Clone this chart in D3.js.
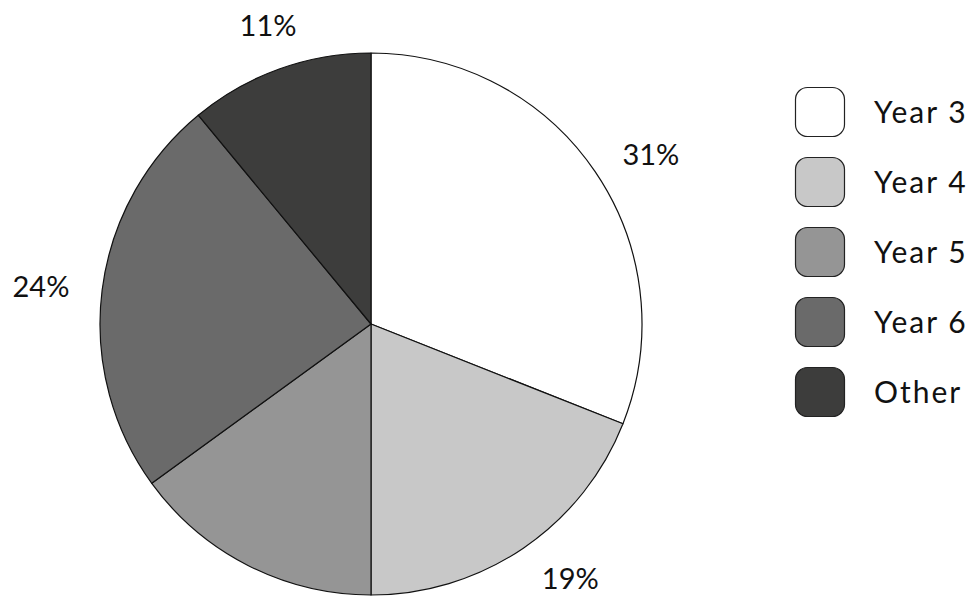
<!DOCTYPE html>
<html>
<head>
<meta charset="utf-8">
<script src="https://cdn.jsdelivr.net/npm/d3@7"></script>
<style>
  html, body { margin: 0; padding: 0; background: #fff; }
  svg { display: block; }
  text { font-family: "Lato", "Open Sans", sans-serif; fill: #111; }
</style>
</head>
<body>
<svg id="chart" width="977" height="598"></svg>
<script>
const categories = ["Year 3", "Year 4", "Year 5", "Year 6", "Other"];
const values = [31, 19, 15, 24, 11];
const colors = ["#ffffff", "#c8c8c8", "#959595", "#6a6a6a", "#3d3d3c"];

const W = 977, H = 598;
const cx = 371, cy = 324, R = 271, labelR = 304;

const svg = d3.select("#chart");
const data = categories.map((c, i) => ({ name: c, value: values[i], color: colors[i] }));

const pie = d3.pie().sort(null).value(d => d.value);
const arcs = pie(data);
const arc = d3.arc().innerRadius(0).outerRadius(R);

const g = svg.append("g").attr("transform", `translate(${cx},${cy})`);
g.selectAll("path.slice")
  .data(arcs)
  .join("path")
  .attr("class", "slice")
  .attr("d", arc)
  .attr("fill", d => d.data.color)
  .attr("stroke", "#111")
  .attr("stroke-width", 1.2)
  .attr("stroke-linejoin", "round");

// percentage labels outside the pie (labels falling outside the canvas are dropped, as in the source)
const fs = 29;
g.selectAll("text.pct")
  .data(arcs)
  .join("text")
  .attr("class", "pct")
  .attr("font-size", fs)
  .attr("text-anchor", "middle")
  .attr("dominant-baseline", "central")
  .text(d => d.data.value + "%")
  .each(function(d) {
    const a = (d.startAngle + d.endAngle) / 2;
    const s = Math.sin(a), c = Math.cos(a);
    const bb = this.getBBox();
    const hw = bb.width / 2;
    const hh = c > 0 ? 14 : 3;
    const ox = Math.abs(s) > 0.4 ? hw * Math.sign(s) : 0;
    const oy = Math.abs(c) > 0.6 ? -hh * c : 0;
    const x = labelR * s + ox, y = -labelR * c + oy;
    if (cy + y + fs * 0.35 > H) { d3.select(this).remove(); return; }
    d3.select(this).attr("x", x).attr("y", y);
  });

// legend
const lg = svg.append("g").attr("transform", "translate(795,87)");
const item = lg.selectAll("g.item")
  .data(data)
  .join("g")
  .attr("class", "item")
  .attr("transform", (d, i) => `translate(0,${i * 70})`);
item.append("rect")
  .attr("x", 0.5).attr("y", 0.5)
  .attr("width", 49).attr("height", 49)
  .attr("rx", 12).attr("ry", 12)
  .attr("fill", d => d.color)
  .attr("stroke", "#222")
  .attr("stroke-width", 1.2);
item.append("text")
  .attr("x", 79)
  .attr("y", 23.5)
  .attr("dominant-baseline", "central")
  .attr("font-size", 30)
  .attr("letter-spacing", 2)
  .text(d => d.name);
</script>
</body>
</html>
